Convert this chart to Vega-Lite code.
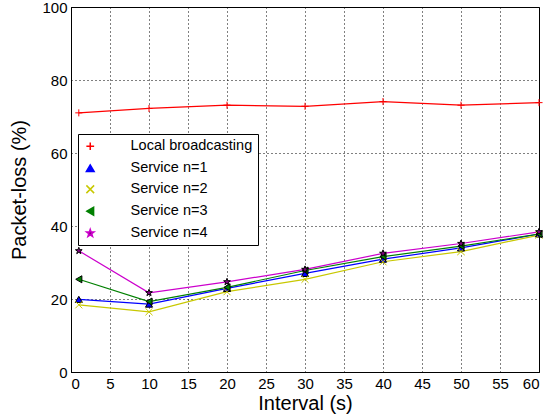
{
  "$schema": "https://vega.github.io/schema/vega-lite/v6.json",
  "width": 468,
  "height": 365,
  "autosize": "none",
  "padding": {"left": 71, "top": 7, "right": 10, "bottom": 47},
  "background": "white",
  "config": {
    "font": "Liberation Sans",
    "view": {"stroke": "black", "strokeWidth": 1},
    "axis": {
      "grid": true,
      "ticks": false,
      "domainColor": "black",
      "gridColor": "black",
      "gridDash": [1, 3],
      "gridOpacity": 1,
      "labelPadding": 4,
      "labelFontSize": 15,
      "labelColor": "black",
      "titleFontSize": 20,
      "titleFontWeight": "normal",
      "titleColor": "black"
    }
  },
  "data": {
    "values": [
      {"series": "Local broadcasting", "x": 1, "y": 71.0},
      {"series": "Local broadcasting", "x": 10, "y": 72.2},
      {"series": "Local broadcasting", "x": 20, "y": 73.1},
      {"series": "Local broadcasting", "x": 30, "y": 72.8},
      {"series": "Local broadcasting", "x": 40, "y": 74.1},
      {"series": "Local broadcasting", "x": 50, "y": 73.1},
      {"series": "Local broadcasting", "x": 60, "y": 73.8},
      {"series": "Service n=1", "x": 1, "y": 19.9},
      {"series": "Service n=1", "x": 10, "y": 18.6},
      {"series": "Service n=1", "x": 20, "y": 22.9},
      {"series": "Service n=1", "x": 30, "y": 27.0},
      {"series": "Service n=1", "x": 40, "y": 30.9},
      {"series": "Service n=1", "x": 50, "y": 34.0},
      {"series": "Service n=1", "x": 60, "y": 37.8},
      {"series": "Service n=2", "x": 1, "y": 18.4},
      {"series": "Service n=2", "x": 10, "y": 16.5},
      {"series": "Service n=2", "x": 20, "y": 22.0},
      {"series": "Service n=2", "x": 30, "y": 25.4},
      {"series": "Service n=2", "x": 40, "y": 30.2},
      {"series": "Service n=2", "x": 50, "y": 33.0},
      {"series": "Service n=2", "x": 60, "y": 37.5},
      {"series": "Service n=3", "x": 1, "y": 25.4},
      {"series": "Service n=3", "x": 10, "y": 19.3},
      {"series": "Service n=3", "x": 20, "y": 23.2},
      {"series": "Service n=3", "x": 30, "y": 27.8},
      {"series": "Service n=3", "x": 40, "y": 31.6},
      {"series": "Service n=3", "x": 50, "y": 34.5},
      {"series": "Service n=3", "x": 60, "y": 37.8},
      {"series": "Service n=4", "x": 1, "y": 33.2},
      {"series": "Service n=4", "x": 10, "y": 21.7},
      {"series": "Service n=4", "x": 20, "y": 24.7},
      {"series": "Service n=4", "x": 30, "y": 28.1},
      {"series": "Service n=4", "x": 40, "y": 32.5},
      {"series": "Service n=4", "x": 50, "y": 35.2},
      {"series": "Service n=4", "x": 60, "y": 38.4}
    ]
  },
  "encoding": {
    "x": {
      "field": "x", "type": "quantitative", "title": "Interval (s)",
      "scale": {"domain": [0, 60], "nice": false},
      "axis": {"values": [0, 5, 10, 15, 20, 25, 30, 35, 40, 45, 50, 55, 60], "titlePadding": 2}
    },
    "y": {
      "field": "y", "type": "quantitative", "title": "Packet-loss (%)",
      "scale": {"domain": [0, 100], "nice": false},
      "axis": {"values": [0, 20, 40, 60, 80, 100], "titlePadding": 12}
    }
  },
  "layer": [
    {
      "mark": {"type": "line", "strokeWidth": 1.2},
      "encoding": {
        "color": {
          "field": "series", "type": "nominal",
          "scale": {
            "domain": ["Local broadcasting", "Service n=1", "Service n=2", "Service n=3", "Service n=4"],
            "range": ["#ff0000", "#0000ff", "#c8c800", "#008000", "#cc00cc"]
          },
          "legend": {
            "title": null,
            "orient": "none",
            "legendX": 7,
            "legendY": 127,
            "fillColor": "white",
            "strokeColor": "black",
            "padding": 5,
            "labelFontSize": 14.5,
            "labelColor": "black",
            "symbolSize": 60,
            "symbolStrokeWidth": 1.5,
            "rowPadding": 6,
            "labelOffset": 33,
            "offset": 0
          }
        }
      }
    },
    {
      "mark": {"type": "point", "filled": false, "size": 50, "strokeWidth": 1, "opacity": 1},
      "encoding": {
        "shape": {
          "field": "series", "type": "nominal",
          "scale": {
            "domain": ["Local broadcasting", "Service n=1", "Service n=2", "Service n=3", "Service n=4"],
            "range": ["M-1,0L1,0M0,-1L0,1", "triangle-up", "M-1,-1L1,1M-1,1L1,-1", "triangle-left", "M0,-1L0.235,-0.324L0.951,-0.309L0.38,0.124L0.588,0.809L0,0.4L-0.588,0.809L-0.38,0.124L-0.951,-0.309L-0.235,-0.324Z"]
          }
        },
        "fill": {
          "field": "series", "type": "nominal",
          "scale": {
            "domain": ["Local broadcasting", "Service n=1", "Service n=2", "Service n=3", "Service n=4"],
            "range": ["transparent", "#0000ff", "transparent", "#008000", "#800080"]
          }
        },
        "stroke": {
          "field": "series", "type": "nominal",
          "scale": {
            "domain": ["Local broadcasting", "Service n=1", "Service n=2", "Service n=3", "Service n=4"],
            "range": ["#ff0000", "#000000", "#c8c800", "#000000", "#000000"]
          }
        }
      }
    }
  ]
}
